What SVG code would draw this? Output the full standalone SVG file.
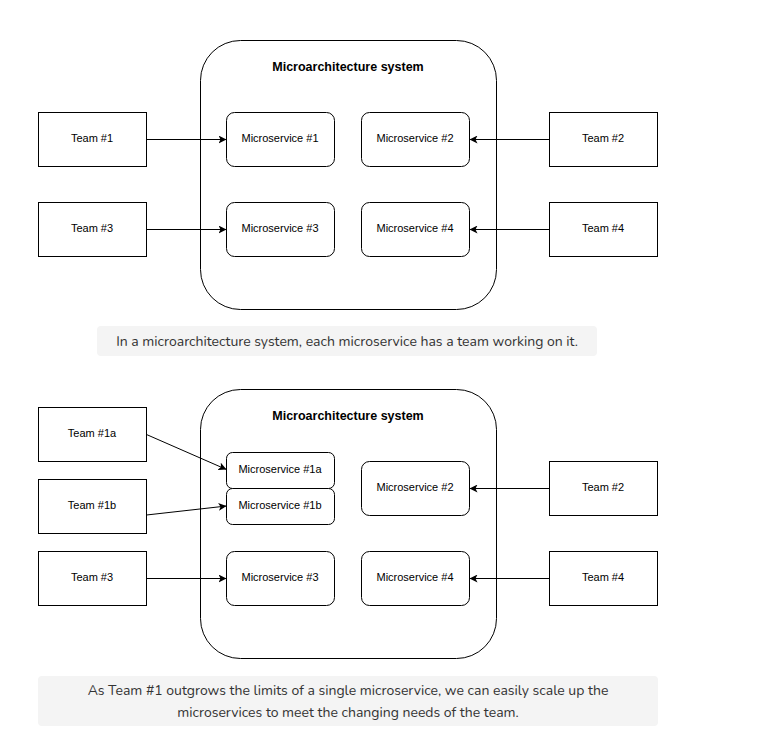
<svg xmlns="http://www.w3.org/2000/svg" width="758" height="743" viewBox="0 0 758 743">
<style>
.team{fill:#fff;stroke:#000;stroke-width:1}
.ms{fill:#fff;stroke:#000;stroke-width:1}
.sys{fill:#fff;stroke:#000;stroke-width:1}
.lbl{font-family:"Liberation Sans",Arial,sans-serif;font-size:11px;fill:#000;text-anchor:middle;dominant-baseline:central}
.title{font-family:"Liberation Sans",Arial,sans-serif;font-size:12.5px;font-weight:bold;fill:#000;text-anchor:middle;dominant-baseline:central}
.cap{fill:#f4f4f4}
.capt{font-family:"Nunito","Open Sans",Lato,sans-serif;font-size:14px;fill:#333;text-anchor:middle;dominant-baseline:central}
.conn{stroke:#000;stroke-width:1;fill:none;marker-end:url(#arr)}
</style>
<defs>
<marker id="arr" viewBox="0 0 10 10" refX="10" refY="5" markerWidth="8" markerHeight="8" markerUnits="userSpaceOnUse" orient="auto">
<path d="M0,0 L10,5 L0,10 L2.5,5 Z" fill="#000"/>
</marker>
</defs>

<!-- Top diagram -->
<g id="sys1"><rect class="sys" x="200.5" y="40.5" width="296" height="269" rx="40" ry="40"/><text class="title" x="348" y="66.5">Microarchitecture system</text></g>
<g id="ms1"><rect class="ms" x="226.5" y="112.5" width="108" height="54" rx="8"/><text class="lbl" x="280" y="138">Microservice #1</text></g>
<g id="ms2"><rect class="ms" x="361.5" y="112.5" width="108" height="54" rx="8"/><text class="lbl" x="415" y="138">Microservice #2</text></g>
<g id="ms3"><rect class="ms" x="226.5" y="202.5" width="108" height="54" rx="8"/><text class="lbl" x="280" y="228">Microservice #3</text></g>
<g id="ms4"><rect class="ms" x="361.5" y="202.5" width="108" height="54" rx="8"/><text class="lbl" x="415" y="228">Microservice #4</text></g>
<g id="t1"><rect class="team" x="38.5" y="112.5" width="108" height="54"/><text class="lbl" x="92" y="138">Team #1</text></g>
<g id="t2"><rect class="team" x="549.5" y="112.5" width="108" height="54"/><text class="lbl" x="603" y="138">Team #2</text></g>
<g id="t3"><rect class="team" x="38.5" y="202.5" width="108" height="54"/><text class="lbl" x="92" y="228">Team #3</text></g>
<g id="t4"><rect class="team" x="549.5" y="202.5" width="108" height="54"/><text class="lbl" x="603" y="228">Team #4</text></g>
<g id="cap1"><rect class="cap" x="97" y="326" width="500" height="30" rx="4"/><text class="capt" x="347" y="341">In a microarchitecture system, each microservice has a team working on it.</text></g>

<!-- Bottom diagram -->
<g id="sys2"><rect class="sys" x="200.5" y="389.5" width="296" height="269" rx="40" ry="40"/><text class="title" x="348" y="415.5">Microarchitecture system</text></g>
<g id="ms1a"><rect class="ms" x="226.5" y="452.5" width="108" height="36" rx="6"/><text class="lbl" x="280" y="469">Microservice #1a</text></g>
<g id="ms1b"><rect class="ms" x="226.5" y="488.5" width="108" height="36" rx="6"/><text class="lbl" x="280" y="505">Microservice #1b</text></g>
<g id="ms2b"><rect class="ms" x="361.5" y="461.5" width="108" height="54" rx="8"/><text class="lbl" x="415" y="487">Microservice #2</text></g>
<g id="ms3b"><rect class="ms" x="226.5" y="551.5" width="108" height="54" rx="8"/><text class="lbl" x="280" y="577">Microservice #3</text></g>
<g id="ms4b"><rect class="ms" x="361.5" y="551.5" width="108" height="54" rx="8"/><text class="lbl" x="415" y="577">Microservice #4</text></g>
<g id="t1a"><rect class="team" x="38.5" y="407.5" width="108" height="54"/><text class="lbl" x="92" y="433">Team #1a</text></g>
<g id="t1b"><rect class="team" x="38.5" y="479.5" width="108" height="54"/><text class="lbl" x="92" y="505">Team #1b</text></g>
<g id="t3b"><rect class="team" x="38.5" y="551.5" width="108" height="54"/><text class="lbl" x="92" y="577">Team #3</text></g>
<g id="t2b"><rect class="team" x="549.5" y="461.5" width="108" height="54"/><text class="lbl" x="603" y="487">Team #2</text></g>
<g id="t4b"><rect class="team" x="549.5" y="551.5" width="108" height="54"/><text class="lbl" x="603" y="577">Team #4</text></g>
<g id="cap2"><rect class="cap" x="38" y="676" width="620" height="50" rx="4"/><text class="capt" x="348" y="690">As Team #1 outgrows the limits of a single microservice, we can easily scale up the</text><text class="capt" x="348" y="712">microservices to meet the changing needs of the team.</text></g>

<g id="connectors">
<line class="conn" x1="146.5" y1="139.5" x2="226.5" y2="139.5"/>
<line class="conn" x1="549.5" y1="139.5" x2="469.5" y2="139.5"/>
<line class="conn" x1="146.5" y1="229.5" x2="226.5" y2="229.5"/>
<line class="conn" x1="549.5" y1="229.5" x2="469.5" y2="229.5"/>
<line class="conn" x1="146.5" y1="434.5" x2="226.5" y2="469.5"/>
<line class="conn" x1="146.5" y1="515" x2="226.5" y2="506"/>
<line class="conn" x1="146.5" y1="578.5" x2="226.5" y2="578.5"/>
<line class="conn" x1="549.5" y1="488.5" x2="469.5" y2="488.5"/>
<line class="conn" x1="549.5" y1="578.5" x2="469.5" y2="578.5"/>
</g>
</svg>
